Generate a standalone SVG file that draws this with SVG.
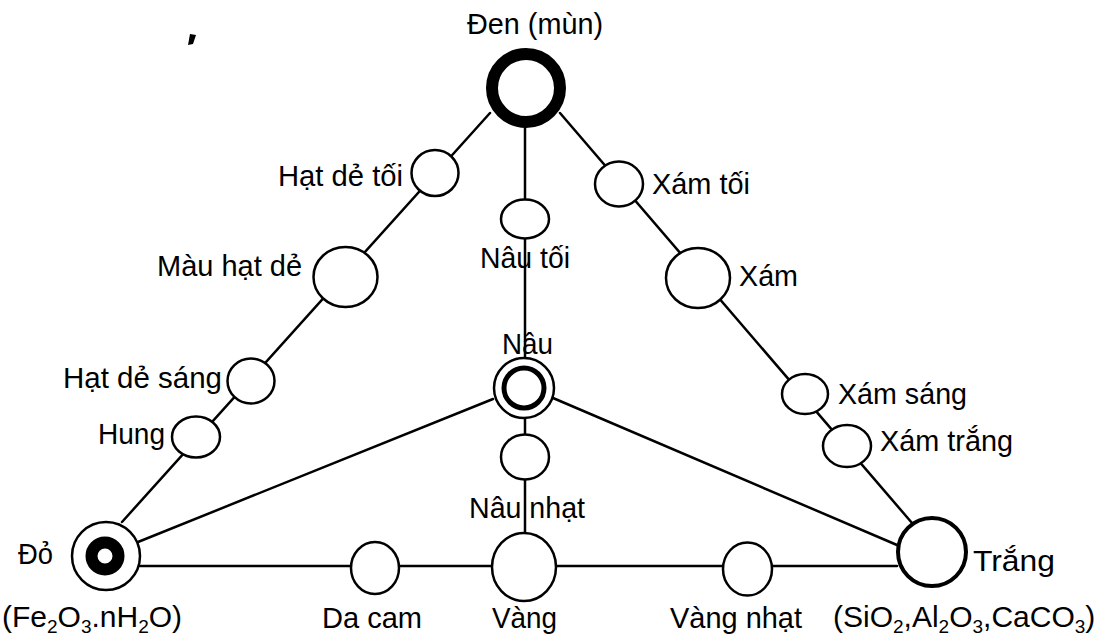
<svg xmlns="http://www.w3.org/2000/svg" width="1094" height="639" viewBox="0 0 1094 639">
<style>
.ln{stroke:#000;stroke-width:2.5;fill:none;stroke-linecap:round}
.nd{fill:#fff;stroke:#000;stroke-width:2.5}
.lb{font-family:"Liberation Sans",Arial,sans-serif;font-size:30px;fill:#000}
.sb{font-size:19px}
</style>
<rect width="1094" height="639" fill="#fff"/>
<path d="M190,34 L196,35 L193,44 L188,45 Z" fill="#000"/>
<g id="connectors">
<line class="ln" x1="490" y1="113" x2="122" y2="522"/>
<line class="ln" x1="560" y1="113" x2="912" y2="523"/>
<line class="ln" x1="525" y1="128" x2="525" y2="533"/>
<line class="ln" x1="493" y1="399" x2="138" y2="542"/>
<line class="ln" x1="553" y1="398" x2="897" y2="545"/>
<line class="ln" x1="140" y1="566" x2="897" y2="566"/>
</g>
<g id="den">
<circle cx="526" cy="88" r="34" fill="#fff" stroke="#000" stroke-width="12"/>
<text class="lb" x="467" y="34" textLength="136" lengthAdjust="spacingAndGlyphs">Đen (mùn)</text>
</g>
<g id="hat-de-toi">
<ellipse class="nd" cx="435" cy="173" rx="23.5" ry="23"/>
<text class="lb" x="278" y="186" textLength="125" lengthAdjust="spacingAndGlyphs">Hạt dẻ tối</text>
</g>
<g id="mau-hat-de">
<ellipse class="nd" cx="345.5" cy="277" rx="32" ry="30"/>
<text class="lb" x="157" y="276" textLength="145" lengthAdjust="spacingAndGlyphs">Màu hạt dẻ</text>
</g>
<g id="hat-de-sang">
<ellipse class="nd" cx="251" cy="381" rx="23.5" ry="22.5"/>
<text class="lb" x="63" y="388" textLength="159" lengthAdjust="spacingAndGlyphs">Hạt dẻ sáng</text>
</g>
<g id="hung">
<ellipse class="nd" cx="196" cy="437" rx="24" ry="20.5"/>
<text class="lb" x="98" y="444" textLength="67" lengthAdjust="spacingAndGlyphs">Hung</text>
</g>
<g id="do">
<circle cx="106" cy="556" r="34" fill="#fff" stroke="#000" stroke-width="2.5"/>
<circle cx="105" cy="556" r="13.5" fill="#fff" stroke="#000" stroke-width="12"/>
<text class="lb" x="18" y="564" textLength="35" lengthAdjust="spacingAndGlyphs">Đỏ</text>
<text class="lb" x="2" y="627">(Fe<tspan class="sb" dy="6">2</tspan><tspan dy="-6">O</tspan><tspan class="sb" dy="6">3</tspan><tspan dy="-6">.nH</tspan><tspan class="sb" dy="6">2</tspan><tspan dy="-6">O)</tspan></text>
</g>
<g id="nau-toi">
<ellipse class="nd" cx="525" cy="219" rx="24" ry="19.5"/>
<text class="lb" x="480" y="268" textLength="90" lengthAdjust="spacingAndGlyphs">Nâu tối</text>
</g>
<g id="nau">
<circle cx="524" cy="388" r="30" fill="#fff" stroke="#000" stroke-width="2.5"/>
<circle cx="524" cy="388" r="20" fill="#fff" stroke="#000" stroke-width="5"/>
<text class="lb" x="502" y="354" textLength="51" lengthAdjust="spacingAndGlyphs">Nâu</text>
</g>
<g id="nau-nhat">
<ellipse class="nd" cx="525" cy="457" rx="24" ry="22.5"/>
<text class="lb" x="469" y="518" textLength="116" lengthAdjust="spacingAndGlyphs">Nâu nhạt</text>
</g>
<g id="xam-toi">
<ellipse class="nd" cx="619" cy="184" rx="24" ry="22.5"/>
<text class="lb" x="652" y="194" textLength="98" lengthAdjust="spacingAndGlyphs">Xám tối</text>
</g>
<g id="xam">
<ellipse class="nd" cx="698" cy="278" rx="32" ry="30"/>
<text class="lb" x="739" y="286" textLength="59" lengthAdjust="spacingAndGlyphs">Xám</text>
</g>
<g id="xam-sang">
<ellipse class="nd" cx="805" cy="394" rx="23" ry="20"/>
<text class="lb" x="838" y="404" textLength="129" lengthAdjust="spacingAndGlyphs">Xám sáng</text>
</g>
<g id="xam-trang">
<ellipse class="nd" cx="847" cy="446" rx="24" ry="21"/>
<text class="lb" x="880" y="451" textLength="133" lengthAdjust="spacingAndGlyphs">Xám trắng</text>
</g>
<g id="trang">
<circle cx="932" cy="552" r="34" fill="#fff" stroke="#000" stroke-width="4"/>
<text class="lb" x="973" y="571" textLength="82" lengthAdjust="spacingAndGlyphs">Trắng</text>
<text class="lb" x="833" y="627">(SiO<tspan class="sb" dy="6">2</tspan><tspan dy="-6">,Al</tspan><tspan class="sb" dy="6">2</tspan><tspan dy="-6">O</tspan><tspan class="sb" dy="6">3</tspan><tspan dy="-6">,CaCO</tspan><tspan class="sb" dy="6">3</tspan><tspan dy="-6">)</tspan></text>
</g>
<g id="da-cam">
<ellipse class="nd" cx="375" cy="568" rx="24" ry="26"/>
<text class="lb" x="322" y="628" textLength="100" lengthAdjust="spacingAndGlyphs">Da cam</text>
</g>
<g id="vang">
<ellipse class="nd" cx="524" cy="567" rx="32" ry="34"/>
<text class="lb" x="492" y="628" textLength="65" lengthAdjust="spacingAndGlyphs">Vàng</text>
</g>
<g id="vang-nhat">
<ellipse class="nd" cx="747.5" cy="569" rx="24.5" ry="26.5"/>
<text class="lb" x="670" y="628" textLength="132" lengthAdjust="spacingAndGlyphs">Vàng nhạt</text>
</g>
</svg>
